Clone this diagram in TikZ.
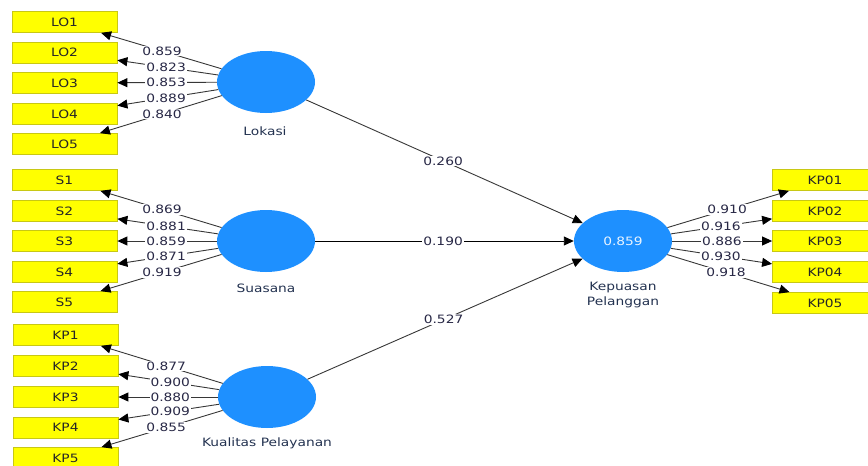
\documentclass[tikz,border=0pt]{standalone}
\usepackage{fontspec}
\setmainfont{DejaVu Sans}[FakeStretch=1.2]
\usetikzlibrary{shapes.geometric,arrows.meta}
\definecolor{boxfill}{RGB}{255,255,0}
\definecolor{boxline}{RGB}{200,200,20}
\definecolor{lvblue}{RGB}{30,144,255}
\definecolor{edgecol}{RGB}{55,55,55}
\definecolor{numcol}{RGB}{40,40,70}
\definecolor{lvtext}{RGB}{35,50,80}
\tikzset{
  ind/.style={draw=boxline, fill=boxfill, line width=0.8pt, minimum width=105pt, minimum height=21pt, inner sep=0pt, font=\fontsize{11.5}{13}\selectfont, text=black!85},
  lv/.style={ellipse, fill=lvblue, minimum width=98pt, minimum height=62pt, inner sep=0pt, font=\fontsize{11.5}{13}\selectfont, text=white!90!lvblue},
  lvlab/.style={font=\fontsize{11.5}{14.5}\selectfont, text=lvtext, align=center},
  arr/.style={draw=edgecol, line width=0.9pt, -{Triangle[length=10pt,width=9pt,color=black]}},
  num/.style={fill=white, inner sep=1pt, font=\fontsize{11.5}{13}\selectfont, text=numcol}
}
\begin{document}
\begin{tikzpicture}[x=1pt,y=-1pt]
\useasboundingbox (0,0) rectangle (868,466);
\begin{scope}
\clip (0,0) rectangle (868,466);
% indicators left
\node[ind] (LO1) at (64.5,22) {LO1};
\node[ind] (LO2) at (64.5,52.5) {LO2};
\node[ind] (LO3) at (64.5,83) {LO3};
\node[ind] (LO4) at (64.5,114) {LO4};
\node[ind] (LO5) at (64.5,144) {LO5};
\node[ind] (S1) at (64.5,180) {S1};
\node[ind] (S2) at (64.5,211) {S2};
\node[ind] (S3) at (64.5,241) {S3};
\node[ind] (S4) at (64.5,272) {S4};
\node[ind] (S5) at (64.5,302) {S5};
\node[ind] (KP1) at (65.5,335) {KP1};
\node[ind] (KP2) at (65.5,366) {KP2};
\node[ind] (KP3) at (65.5,397) {KP3};
\node[ind] (KP4) at (65.5,427.5) {KP4};
\node[ind] (KP5) at (65.5,458) {KP5};
% indicators right
\node[ind] (KPO1) at (825,180) {KP01};
\node[ind] (KPO2) at (825,211) {KP02};
\node[ind] (KPO3) at (825,241) {KP03};
\node[ind] (KPO4) at (825,272) {KP04};
\node[ind] (KPO5) at (825,303) {KP05};
% latent variables
\node[lv] (lok) at (266,82) {};
\node[lv] (sua) at (266,241) {};
\node[lv] (kua) at (267,397) {};
\node[lv] (kep) at (623,241) {0.859};
\node[lvlab] (lokl) at (265,131) {Lokasi};
\node[lvlab] (sual) at (266,288) {Suasana};
\node[lvlab] (kual) at (267,443) {Kualitas Pelayanan};
\node[lvlab] (kepl) at (623,295) {Kepuasan\\Pelanggan};
% outer loadings
\foreach \a/\b in {lok/LO1,lok/LO2,lok/LO3,lok/LO4,lok/LO5,sua/S1,sua/S2,sua/S3,sua/S4,sua/S5,kua/KP1,kua/KP2,kua/KP3,kua/KP4,kua/KP5,kep/KPO1,kep/KPO2,kep/KPO3,kep/KPO4,kep/KPO5}
  \draw[arr] (\a) -- (\b);
% structural paths
\draw[arr] (lok) -- (kep);
\draw[arr, draw=black] (sua) -- (kep);
\draw[arr] (kua) -- (kep);
% labels
\path (lok.center) -- (LO1.center) node[num,pos=0.516] {0.859};
\path (lok.center) -- (LO2.center) node[num,pos=0.496] {0.823};
\path (lok.center) -- (LO3.center) node[num,pos=0.496] {0.853};
\path (lok.center) -- (LO4.center) node[num,pos=0.496] {0.889};
\path (lok.center) -- (LO5.center) node[num,pos=0.516] {0.840};
\path (sua.center) -- (S1.center) node[num,pos=0.516] {0.869};
\path (sua.center) -- (S2.center) node[num,pos=0.496] {0.881};
\path (sua.center) -- (S3.center) node[num,pos=0.496] {0.859};
\path (sua.center) -- (S4.center) node[num,pos=0.496] {0.871};
\path (sua.center) -- (S5.center) node[num,pos=0.516] {0.919};
\path (kua.center) -- (KP1.center) node[num,pos=0.50] {0.877};
\path (kua.center) -- (KP2.center) node[num,pos=0.48] {0.900};
\path (kua.center) -- (KP3.center) node[num,pos=0.48] {0.880};
\path (kua.center) -- (KP4.center) node[num,pos=0.48] {0.909};
\path (kua.center) -- (KP5.center) node[num,pos=0.50] {0.855};
\path (kep.center) -- (KPO1.center) node[num,pos=0.515] {0.910};
\path (kep.center) -- (KPO2.center) node[num,pos=0.485] {0.916};
\path (kep.center) -- (KPO3.center) node[num,pos=0.49] {0.886};
\path (kep.center) -- (KPO4.center) node[num,pos=0.485] {0.930};
\path (kep.center) -- (KPO5.center) node[num,pos=0.51] {0.918};
\path (lok.center) -- (kep.center) node[num,pos=0.496] {0.260};
\path (sua.center) -- (kep.center) node[num,pos=0.496] {0.190};
\path (kua.center) -- (kep.center) node[num,pos=0.496] {0.527};
\end{scope}
\end{tikzpicture}
\end{document}
